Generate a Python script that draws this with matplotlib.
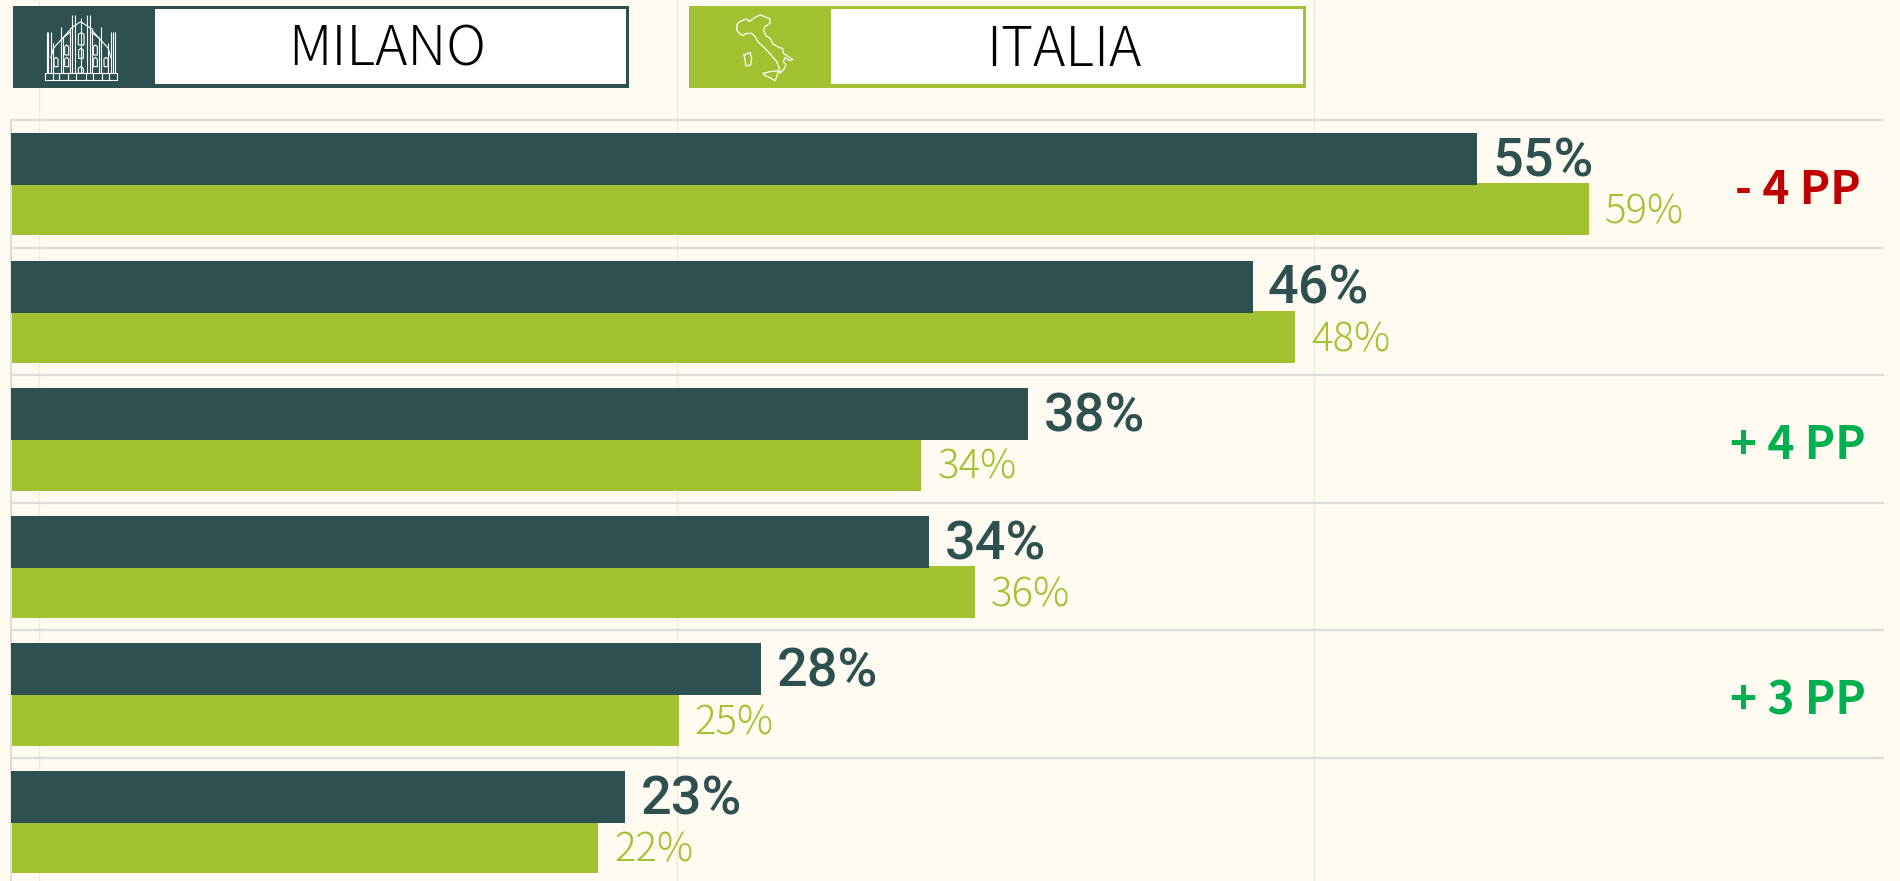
import matplotlib
matplotlib.use("Agg")
import matplotlib.pyplot as plt
from matplotlib.patches import Rectangle

# valori
righe = [0, 1, 2, 3, 4, 5]
milano = [54.9, 46.5, 38.1, 34.4, 28.1, 23]
italia = [59.1, 48.1, 34.1, 36.1, 25, 22]
etichette_milano = ["55%", "46%", "38%", "34%", "28%", "23%"]
etichette_italia = ["59%", "48%", "34%", "36%", "25%", "22%"]
differenze = ["- 4 PP", "", "+ 4 PP", "", "+ 3 PP", ""]
colori_diff = ["#C00000", "", "#00B050", "", "#00B050", ""]

scuro = "#2F5050"
verde = "#A1C130"
sfondo = "#FFFBF0"
griglia = "#EDEBE2"
separatore = "#DDDDDB"
W, H = 1900, 881
px_per_pct = 26.7
passo = 127.6

plt.rcParams["font.family"] = ["Noto Sans CJK JP", "DejaVu Sans"]

fig = plt.figure(figsize=(W / 100, H / 100), dpi=100, facecolor=sfondo)

# overlay in pixel per griglia di fondo e legenda
bg = fig.add_axes([0, 0, 1, 1])
bg.set_xlim(0, W)
bg.set_ylim(H, 0)
bg.axis("off")
for x in [39, 677, 1314]:
    bg.plot([x, x], [0, H], color=griglia, lw=1)

# barre
ax = fig.add_axes([11 / W, 0, (1884 - 11) / W, (H - 120) / H])
ax.patch.set_alpha(0)
ax.set_xlim(0, (1884 - 11) / px_per_pct)
ax.set_ylim((H - 120) / passo - 0.5, -0.5)
for s in ax.spines.values():
    s.set_visible(False)
ax.set_xticks([])
ax.set_yticks([])
ax.spines["left"].set_visible(True)
ax.spines["left"].set_color(separatore)
ax.spines["left"].set_linewidth(1.5)
for i in range(6):
    ax.axhline(i - 0.5, color=separatore, lw=1.7, zorder=1, clip_on=False, solid_capstyle="butt")

h = 0.4075
off_m = -0.194
off_i = 0.2
ax.barh([r + off_m for r in righe], milano, height=h, color=scuro, zorder=3)
ax.barh([r + off_i for r in righe], italia, height=h, color=verde, zorder=2)

for r, v, t in zip(righe, milano, etichette_milano):
    ax.annotate(t, (v, r + off_m), xytext=(11, -2), textcoords="offset points",
                ha="left", va="center", fontsize=39, color=scuro, fontweight="medium",
                family=["Roboto", "DejaVu Sans"])
for r, v, t in zip(righe, italia, etichette_italia):
    ax.annotate(t, (v, r + off_i), xytext=(11.5, -2.5), textcoords="offset points",
                ha="left", va="center", fontsize=29, color=verde, fontweight="light")
for r, t, c in zip(righe, differenze, colori_diff):
    if t:
        ax.annotate(t, (1787 / px_per_pct, r), xytext=(0, -5), textcoords="offset points",
                    ha="center", va="center", fontsize=33, color=c, fontweight="bold")

# legenda
def riquadro(x0, x1, x_bianco, col, nome, xt):
    bg.add_patch(Rectangle((x0, 6), x1 - x0, 82, facecolor=col, edgecolor="none", zorder=5))
    bg.add_patch(Rectangle((x_bianco, 9), x1 - 3 - x_bianco, 75, facecolor="white", edgecolor="none", zorder=6))
    bg.text(xt, 50, nome, ha="center", va="center", fontsize=39.5, color="black",
            fontweight="light", zorder=7)

riquadro(12.5, 629, 155, scuro, "MILANO", 387)
riquadro(689, 1306, 831, verde, "ITALIA", 1064)

# icona Italia, tracciata a mano
penisola = [(50, 62), (55, 52), (70, 45), (80, 42), (88, 50), (100, 40), (120, 30), (135, 35),
            (150, 42), (150, 55), (135, 65), (130, 75), (138, 92), (150, 100), (160, 118),
            (178, 128), (188, 130), (190, 145), (205, 155), (218, 163), (210, 167), (195, 158),
            (190, 170), (198, 180), (192, 192), (180, 205), (178, 190), (170, 170), (155, 152),
            (135, 130), (115, 112), (105, 95), (95, 85), (80, 85), (68, 92), (58, 85), (50, 75),
            (50, 62)]
sardegna = [(72, 150), (90, 142), (95, 160), (92, 180), (78, 183), (75, 165), (72, 150)]
sicilia = [(130, 205), (150, 200), (175, 197), (172, 210), (165, 227), (150, 218), (135, 212),
           (130, 205)]
for contorno in [penisola, sardegna, sicilia]:
    bg.plot([720 + p[0] / 3 for p in contorno], [5 + p[1] / 3 for p in contorno],
            color="white", lw=0.9, zorder=7)

# icona Duomo, tracciata a mano
duomo = [
    [(45, 205), (260, 205), (260, 225), (45, 225), (45, 205)],
    [(120, 72), (152, 50), (185, 72)],
    [(70, 130), (120, 75)], [(185, 75), (235, 130)],
    [(98, 100), (120, 82)], [(185, 82), (208, 100)],
    [(62, 160), (70, 130)], [(235, 130), (243, 160)],
]
for x, y0 in [(50, 80), (55, 80), (62, 80), (243, 80), (250, 80), (256, 80), (92, 65), (212, 65),
              (125, 30), (135, 30), (170, 30), (180, 30), (152, 40), (70, 115), (98, 95),
              (120, 70), (185, 70), (208, 95), (235, 115)]:
    duomo.append([(x, y0), (x, 205)])
for x0, x1, y0, y1 in [(145, 162, 88, 120), (146, 160, 135, 160), (145, 160, 190, 205),
                       (104, 116, 125, 150), (190, 202, 125, 150), (104, 116, 162, 185),
                       (190, 202, 162, 185), (72, 84, 162, 185), (222, 234, 162, 185)]:
    duomo.append([(x0, y1), (x0, y0), ((x0 + x1) / 2, y0 - 5), (x1, y0), (x1, y1), (x0, y1)])
for x in [68, 88, 115, 138, 168, 190, 215, 238]:
    duomo.append([(x, 205), (x, 225)])
for tratto in duomo:
    bg.plot([30 + p[0] / 3 for p in tratto], [5 + p[1] / 3 for p in tratto],
            color="white", lw=0.8, zorder=7, solid_capstyle="butt")

fig.savefig("out.png", dpi=100, facecolor=sfondo)
